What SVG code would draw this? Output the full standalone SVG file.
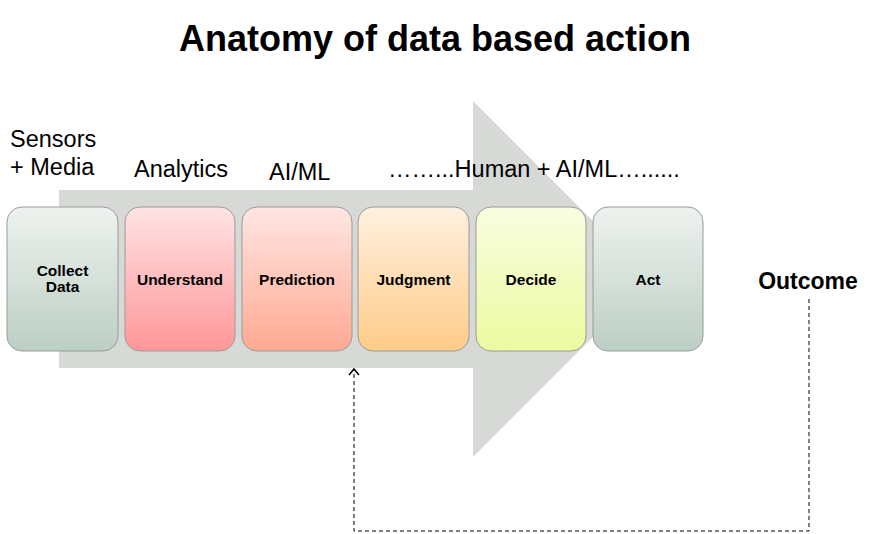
<svg xmlns="http://www.w3.org/2000/svg" width="871" height="534" viewBox="0 0 871 534">
<style>
.box{stroke:#9a9a9a;stroke-width:1}
.lbl{font-family:"Liberation Sans",Arial,sans-serif;font-weight:bold;font-size:15.5px;text-anchor:middle;fill:#000}
.hd{font-family:"Liberation Sans",Arial,sans-serif;font-size:23.5px;fill:#000}
</style>
<defs>
<linearGradient id="gGray" x1="0" y1="0" x2="0" y2="1"><stop offset="0" stop-color="#eef2ef"/><stop offset="1" stop-color="#bccfc4"/></linearGradient>
<linearGradient id="gRed" x1="0" y1="0" x2="0" y2="1"><stop offset="0" stop-color="#ffe3e4"/><stop offset="1" stop-color="#ff9698"/></linearGradient>
<linearGradient id="gSal" x1="0" y1="0" x2="0" y2="1"><stop offset="0" stop-color="#ffe6e3"/><stop offset="1" stop-color="#ffa991"/></linearGradient>
<linearGradient id="gOr" x1="0" y1="0" x2="0" y2="1"><stop offset="0" stop-color="#fff0e0"/><stop offset="1" stop-color="#ffcc88"/></linearGradient>
<linearGradient id="gYel" x1="0" y1="0" x2="0" y2="1"><stop offset="0" stop-color="#f9fde0"/><stop offset="1" stop-color="#ecfa9f"/></linearGradient>
<marker id="open" markerWidth="12" markerHeight="12" refX="7" refY="6" orient="auto" markerUnits="userSpaceOnUse"><path d="M1,1 L7,6 L1,11" fill="none" stroke="#000" stroke-width="1.5"/></marker>
</defs>
<text x="435" y="51" font-family="Liberation Sans,Arial,sans-serif" font-weight="bold" font-size="36" text-anchor="middle">Anatomy of data based action</text>
<polygon points="59,190 473,190 473,101 651,279 473,457 473,368 59,368" fill="#d6d9d6"/>
<text class="hd" x="10" y="147">Sensors</text>
<text class="hd" x="10" y="175">+ Media</text>
<text class="hd" x="134" y="177">Analytics</text>
<text class="hd" x="269" y="180">AI/ML</text>
<text class="hd" x="388" y="177">……...Human + AI/ML…......</text>
<g id="collect"><rect class="box" x="7" y="207" width="111" height="144" rx="15" fill="url(#gGray)"/><text class="lbl" x="62.5" y="276">Collect</text><text class="lbl" x="62.5" y="292">Data</text></g>
<g id="understand"><rect class="box" x="125" y="207" width="110" height="144" rx="15" fill="url(#gRed)"/><text class="lbl" x="180" y="285">Understand</text></g>
<g id="prediction"><rect class="box" x="242" y="207" width="110" height="144" rx="15" fill="url(#gSal)"/><text class="lbl" x="297" y="285">Prediction</text></g>
<g id="judgment"><rect class="box" x="358" y="207" width="111" height="144" rx="15" fill="url(#gOr)"/><text class="lbl" x="413.5" y="285">Judgment</text></g>
<g id="decide"><rect class="box" x="476" y="207" width="110" height="144" rx="15" fill="url(#gYel)"/><text class="lbl" x="531" y="285">Decide</text></g>
<g id="act"><rect class="box" x="593" y="207" width="110" height="144" rx="15" fill="url(#gGray)"/><text class="lbl" x="648" y="285">Act</text></g>
<g id="outcome"><text x="808" y="289" font-family="Liberation Sans,Arial,sans-serif" font-weight="bold" font-size="23" text-anchor="middle">Outcome</text></g>
<g id="connectors"><path d="M809,299 L809,531 L354,531 L354,369" fill="none" stroke="#000" stroke-width="1" stroke-dasharray="4,3" marker-end="url(#open)"/></g>
</svg>
